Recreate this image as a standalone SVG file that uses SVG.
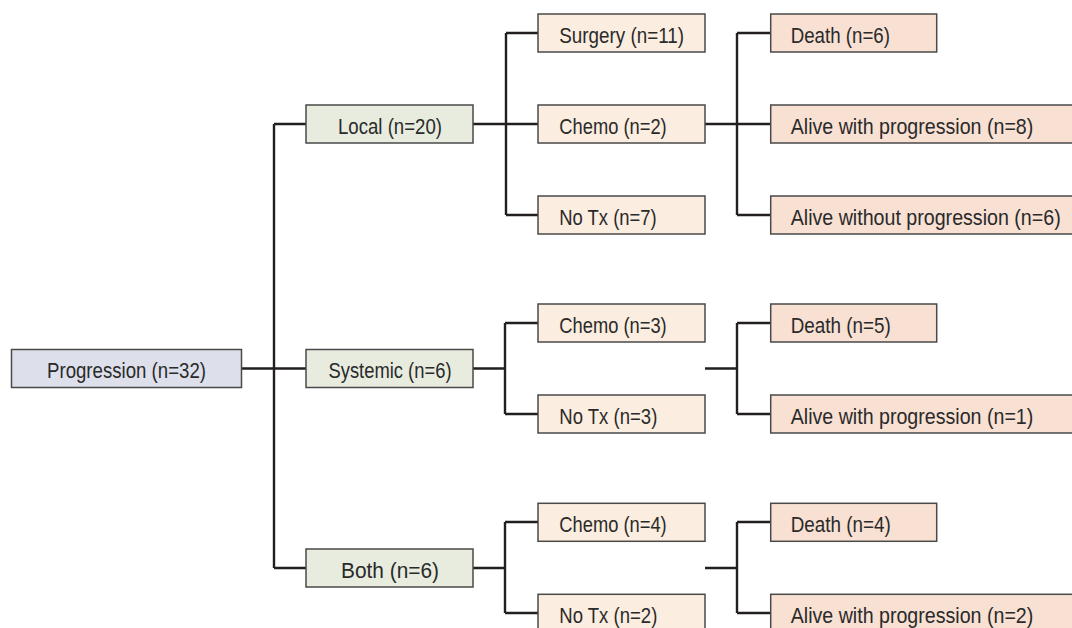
<svg xmlns="http://www.w3.org/2000/svg" width="1072" height="628" viewBox="0 0 1072 628">
<style>
.b{stroke:#4a4a4a;stroke-width:1.5}
.p{fill:#dde0ea}
.g{fill:#e7ecdf}
.t{fill:#fbeddf}
.o{fill:#f8e0d3}
text{font-family:"Liberation Sans",Arial,sans-serif;font-size:22px;fill:#2a2a2a}
.c{text-anchor:middle}
#connectors path{fill:none;stroke:#231f20;stroke-width:2.4}
</style>
<rect width="1072" height="628" fill="#ffffff"/>
<g id="connectors">
<path d="M242 368.5H306M274 124V568M274 124H306M274 568H306"/>
<path d="M473 124H538M506 33V215M506 33H538M506 215H538"/>
<path d="M705 124H770M737 33V215M737 33H770M737 215H770"/>
<path d="M473 368.5H505M505 323V414M505 323H538M505 414H538"/>
<path d="M705 368.5H737M737 323V414M737 323H770M737 414H770"/>
<path d="M473 568H505M505 522V613M505 522H538M505 613H538"/>
<path d="M705 568H737M737 522V613M737 522H770M737 613H770"/>
</g>
<g id="progression"><rect class="b p" x="11.5" y="349.5" width="230" height="38"/><text class="c" x="126.5" y="378" textLength="159" lengthAdjust="spacingAndGlyphs">Progression (n=32)</text></g>
<g id="local"><rect class="b g" x="306" y="105" width="167" height="38"/><text class="c" x="390" y="133.5" textLength="104" lengthAdjust="spacingAndGlyphs">Local (n=20)</text></g>
<g id="systemic"><rect class="b g" x="306" y="349.5" width="167" height="38"/><text class="c" x="390" y="378" textLength="123" lengthAdjust="spacingAndGlyphs">Systemic (n=6)</text></g>
<g id="both"><rect class="b g" x="306" y="549" width="167" height="38"/><text class="c" x="390" y="577.5" textLength="98" lengthAdjust="spacingAndGlyphs">Both (n=6)</text></g>
<g id="surgery"><rect class="b t" x="538" y="14" width="167" height="38"/><text x="559.3" y="42.5" textLength="124.7" lengthAdjust="spacingAndGlyphs">Surgery (n=11)</text></g>
<g id="chemo1"><rect class="b t" x="538" y="105" width="167" height="38"/><text x="559.3" y="133.5" textLength="107.4" lengthAdjust="spacingAndGlyphs">Chemo (n=2)</text></g>
<g id="notx1"><rect class="b t" x="538" y="196" width="167" height="38"/><text x="559.3" y="224.5" textLength="97.4" lengthAdjust="spacingAndGlyphs">No Tx (n=7)</text></g>
<g id="chemo2"><rect class="b t" x="538" y="304" width="167" height="38"/><text x="559.3" y="332.5" textLength="107.4" lengthAdjust="spacingAndGlyphs">Chemo (n=3)</text></g>
<g id="notx2"><rect class="b t" x="538" y="395" width="167" height="38"/><text x="559.3" y="423.5" textLength="98" lengthAdjust="spacingAndGlyphs">No Tx (n=3)</text></g>
<g id="chemo3"><rect class="b t" x="538" y="503.3" width="167" height="38"/><text x="559.3" y="531.8" textLength="107.4" lengthAdjust="spacingAndGlyphs">Chemo (n=4)</text></g>
<g id="notx3"><rect class="b t" x="538" y="594.3" width="167" height="38"/><text x="559.3" y="622.8" textLength="98" lengthAdjust="spacingAndGlyphs">No Tx (n=2)</text></g>
<g id="death1"><rect class="b o" x="770.7" y="14" width="166" height="38"/><text x="790.7" y="42.5" textLength="99.3" lengthAdjust="spacingAndGlyphs">Death (n=6)</text></g>
<g id="alivewith1"><rect class="b o" x="770.7" y="105" width="320" height="38"/><text x="790.7" y="133.5" textLength="242.6" lengthAdjust="spacingAndGlyphs">Alive with progression (n=8)</text></g>
<g id="alivewithout1"><rect class="b o" x="770.7" y="196" width="320" height="38"/><text x="790.7" y="224.5" textLength="270" lengthAdjust="spacingAndGlyphs">Alive without progression (n=6)</text></g>
<g id="death2"><rect class="b o" x="770.7" y="304" width="166" height="38"/><text x="790.7" y="332.5" textLength="100" lengthAdjust="spacingAndGlyphs">Death (n=5)</text></g>
<g id="alivewith2"><rect class="b o" x="770.7" y="395" width="320" height="38"/><text x="790.7" y="423.5" textLength="242.6" lengthAdjust="spacingAndGlyphs">Alive with progression (n=1)</text></g>
<g id="death3"><rect class="b o" x="770.7" y="503.3" width="166" height="38"/><text x="790.7" y="531.8" textLength="100" lengthAdjust="spacingAndGlyphs">Death (n=4)</text></g>
<g id="alivewith3"><rect class="b o" x="770.7" y="594.3" width="320" height="38"/><text x="790.7" y="622.8" textLength="242.6" lengthAdjust="spacingAndGlyphs">Alive with progression (n=2)</text></g>
</svg>
